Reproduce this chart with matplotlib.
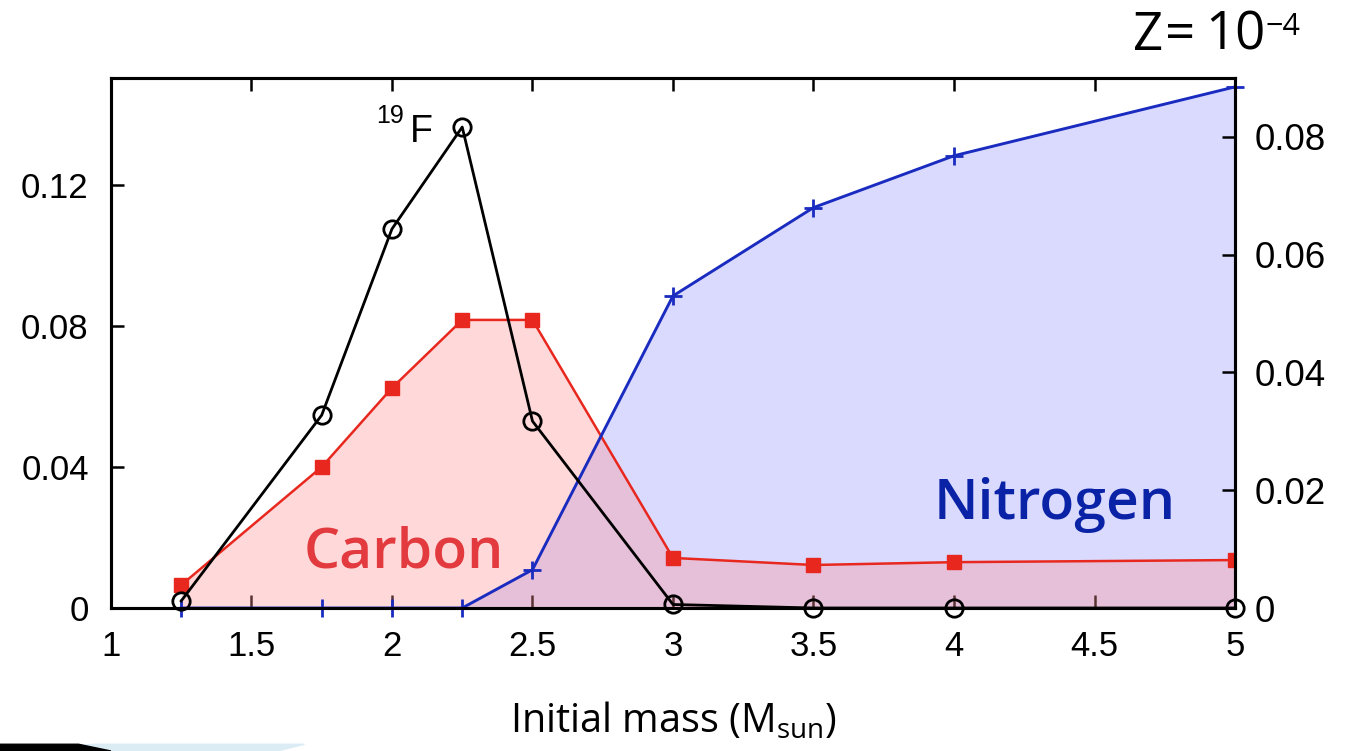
import matplotlib
matplotlib.use("Agg")
import matplotlib.pyplot as plt
from matplotlib.patches import Polygon

# ---- data ----
mass = [1.25, 1.75, 2.0, 2.25, 2.5, 3.0, 3.5, 4.0, 5.0]
fluorine = [0.002, 0.0547, 0.1075, 0.1364, 0.053, 0.001, 0.0, 0.0, 0.0]
carbon = [0.0065, 0.040, 0.0624, 0.0817, 0.0817, 0.0142, 0.0122, 0.0130, 0.0136]
nitrogen = [0.0, 0.0, 0.0, 0.0, 0.0065, 0.053, 0.068, 0.0768, 0.0885]
xticks = [1, 1.5, 2, 2.5, 3, 3.5, 4, 4.5, 5]
xticklabels = ["1", "1.5", "2", "2.5", "3", "3.5", "4", "4.5", "5"]
left_ticks = [0, 0.04, 0.08, 0.12]
left_labels = ["0", "0.04", "0.08", "0.12"]
right_ticks = [0, 0.02, 0.04, 0.06, 0.08]
right_labels = ["0", "0.02", "0.04", "0.06", "0.08"]

tickfont = "Liberation Sans"
textfont = "Open Sans"

fig = plt.figure(figsize=(13.53, 7.51), dpi=100)
ax = fig.add_axes([0.082, 0.1904, 0.8308, 0.7057])
ax2 = ax.twinx()

ax.set_xlim(1, 5)
ax.set_ylim(0, 0.1503)
ax2.set_ylim(0, 0.090)

red = "#e8281e"
blue = "#1a2bc0"

# fills
ax.fill_between(mass, nitrogen, 0, color="#dadaff", lw=0, zorder=1,
                transform=ax2.transData)
ax.fill_between(mass, carbon, 0, color="#ff9292", alpha=0.35, lw=0, zorder=2)
# lines
ax.plot(mass, carbon, color=red, lw=1.8, marker="s", ms=10, mec=red, mfc=red, zorder=3)
ax.plot(mass, nitrogen, color=blue, lw=2.1, marker="+", ms=13, mew=2.0, zorder=4,
        transform=ax2.transData, clip_on=False)
ax.plot(mass, fluorine, color="black", lw=2.0, marker="o", ms=12.5, mew=2.0,
        mfc="none", mec="black", zorder=5, clip_on=False)

ax.set_xlim(1, 5)
ax.set_ylim(0, 0.1503)
ax2.set_ylim(0, 0.090)

for a in (ax, ax2):
    for s in a.spines.values():
        s.set_linewidth(2.2)

ax.set_xticks(xticks)
ax.set_xticklabels(xticklabels, fontfamily=tickfont, fontsize=25)
ax.set_yticks(left_ticks)
ax.set_yticklabels(left_labels, fontfamily=tickfont, fontsize=25)
ax2.set_yticks(right_ticks)
ax2.set_yticklabels(right_labels, fontfamily=tickfont, fontsize=26.5)
ax.tick_params(axis="both", direction="in", length=9.5, width=1.8, top=True, right=False)
ax.tick_params(axis="x", pad=16)
ax.tick_params(axis="y", pad=16)
ax2.tick_params(axis="y", direction="in", length=9.5, width=1.8, left=False, right=True,
                pad=14)

ax.set_xlabel(r"Initial mass (M$_{\mathregular{sun}}$)", fontfamily=textfont,
              fontsize=28.5, labelpad=27)

# annotations
ax.text(2.041, 0.1376, "19", fontfamily=tickfont, fontsize=18, ha="right", va="baseline")
ax.text(2.062, 0.1322, "F", fontfamily=tickfont, fontsize=27, ha="left", va="baseline")
ax.text(2.041, 0.01135, "Carbon", fontfamily=textfont, fontsize=41, fontweight="semibold",
        color="#e23a3e", ha="center", va="baseline")
ax2.text(4.358, 0.0151, "Nitrogen", fontfamily=textfont, fontsize=41, fontweight="semibold",
         color="#0a22a6", ha="center", va="baseline")

base = 1 - 50 / 751
fig.text(1133 / 1353, base, "Z", fontfamily=textfont, fontsize=38, ha="left", va="baseline")
fig.text(1165 / 1353, base, "=", fontfamily=textfont, fontsize=38, ha="left", va="baseline")
fig.text(1205 / 1353, base, "10", fontfamily=textfont, fontsize=38, ha="left", va="baseline")
fig.text(1265 / 1353, 1 - 35 / 751, "\u22124", fontfamily=textfont, fontsize=22,
         ha="left", va="baseline")

# slide decoration bottom-left
fig.patches.append(Polygon([[0, 0], [0.205, 0], [0.225, 0.009], [0.07, 0.009]],
                           closed=True, transform=fig.transFigure, color="#dcecf5",
                           zorder=0))
fig.patches.append(Polygon([[0, 0], [0.082, 0], [0.058, 0.009], [0, 0.009]],
                           closed=True, transform=fig.transFigure, color="black",
                           zorder=1))

fig.savefig("out.png", dpi=100)
